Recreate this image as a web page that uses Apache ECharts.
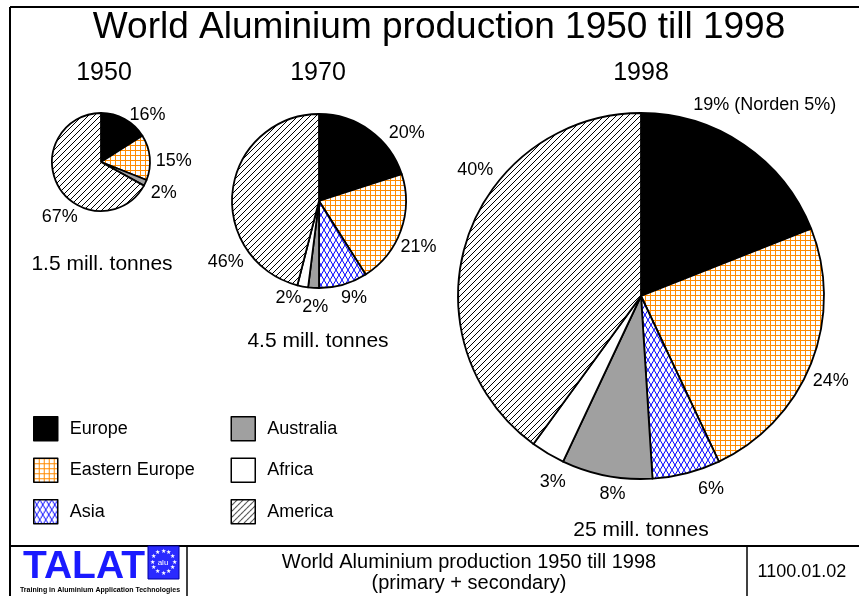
<!DOCTYPE html>
<html>
<head>
<meta charset="utf-8">
<title>World Aluminium production 1950 till 1998</title>
<script src="https://cdn.jsdelivr.net/npm/echarts@6/dist/echarts.min.js"></script>
<style>
html, body { margin: 0; padding: 0; background: #fff; }
#chart { width: 859px; height: 596px; }
</style>
</head>
<body>
<div id="chart"></div>
<script>
var regions = ['Europe', 'Eastern Europe', 'Asia', 'Australia', 'Africa', 'America'];
var years = ['1950', '1970', '1998'];
var totals = ['1.5 mill. tonnes', '4.5 mill. tonnes', '25 mill. tonnes'];
// share of world production in %, same order as regions (0 = no slice)
var share1950 = [16, 15, 0, 2, 0, 67];
var share1970 = [20, 21, 9, 2, 2, 46];
var share1998 = [19, 24, 6, 8, 3, 40];
var notes1998 = ['(Norden 5%)', '', '', '', '', ''];

var FONT = '"Liberation Sans", Arial, sans-serif';

function makePattern (w, h, draw) {
  var c = document.createElement('canvas');
  c.width = w;
  c.height = h;
  var ctx = c.getContext('2d');
  ctx.fillStyle = '#fff';
  ctx.fillRect(0, 0, w, h);
  draw(ctx);
  return { image: c, repeat: 'repeat' };
}

// orange square grid
var gridFill = makePattern(5, 5, function (ctx) {
  ctx.fillStyle = '#ff8a00';
  ctx.fillRect(0, 0, 5, 1);
  ctx.fillRect(0, 0, 1, 5);
});
// blue diamond cross hatch
var diamondFill = makePattern(6, 10, function (ctx) {
  ctx.strokeStyle = '#0000ff';
  ctx.lineWidth = 1;
  ctx.beginPath();
  ctx.moveTo(0, 0); ctx.lineTo(6, 10);
  ctx.moveTo(6, 0); ctx.lineTo(0, 10);
  ctx.stroke();
});
// black diagonal hatch
var hatchFill = makePattern(6, 6, function (ctx) {
  ctx.strokeStyle = '#000';
  ctx.lineWidth = 1;
  ctx.beginPath();
  ctx.moveTo(-6, 6); ctx.lineTo(6, -6);
  ctx.moveTo(0, 6); ctx.lineTo(6, 0);
  ctx.moveTo(0, 12); ctx.lineTo(12, 0);
  ctx.stroke();
});

var fills = ['#000', gridFill, diamondFill, '#a0a0a0', '#fff', hatchFill];

function pieSeries (values, notes, center, radius, offs) {
  var data = [];
  values.forEach(function (v, i) {
    if (v > 0) {
      data.push({ name: regions[i], value: v, note: notes ? notes[i] : '', itemStyle: { color: fills[i] } });
    }
  });
  return {
    type: 'pie',
    center: center,
    radius: radius,
    startAngle: 90,
    clockwise: true,
    avoidLabelOverlap: false,
    silent: true,
    emphasis: { disabled: true },
    itemStyle: { borderColor: '#000', borderWidth: 1.8 },
    label: {
      show: true,
      position: 'outside',
      distanceToLabelLine: 4,
      color: '#000',
      fontSize: 18,
      fontFamily: FONT,
      formatter: function (p) {
        var n = data[p.dataIndex].note;
        return p.value + '%' + (n ? ' ' + n : '');
      }
    },
    labelLine: { show: false, length: 6, length2: 0 },
    labelLayout: function (p) {
      var o = offs[data[p.dataIndex].name] || [0, 0];
      return { dx: o[0], dy: o[1] };
    },
    data: data
  };
}

function text (x, y, str, size, extra) {
  var st = {
    text: str,
    fontSize: size,
    fontFamily: FONT,
    fill: '#000',
    align: 'center',
    verticalAlign: 'middle'
  };
  for (var k in extra) st[k] = extra[k];
  return { type: 'text', x: x, y: y, silent: true, style: st };
}

function line (x1, y1, x2, y2, w) {
  return { type: 'line', silent: true, shape: { x1: x1, y1: y1, x2: x2, y2: y2 }, style: { stroke: '#000', lineWidth: w } };
}

// little EU style star ring for the logo
var stars = [];
for (var s = 0; s < 12; s++) {
  var a = s / 12 * Math.PI * 2;
  stars.push(text(163 + Math.cos(a) * 11, 562 + Math.sin(a) * 11, '\u2605', 6, { fill: '#ffffff' }));
}

var legendBase = {
  orient: 'vertical',
  top: 416,
  itemWidth: 24,
  itemHeight: 24,
  itemGap: 16,
  padding: 0,
  icon: 'rect',
  selectedMode: false,
  itemStyle: { borderColor: '#000', borderWidth: 1.5 },
  textStyle: { fontSize: 18, color: '#000', fontFamily: FONT, padding: [0, 0, 0, 7] }
};

var chart = echarts.init(document.getElementById('chart'));
var option = {
  animation: false,
  backgroundColor: '#fff',
  legend: [
    Object.assign({}, legendBase, { left: 33, data: regions.slice(0, 3) }),
    Object.assign({}, legendBase, { left: 230.5, data: regions.slice(3) })
  ],
  series: [
    pieSeries(share1950, null, [101, 162], 49, {
      'Europe': [-2, 1], 'Eastern Europe': [-4, 4], 'Australia': [-4, 8], 'America': [28, 27]
    }),
    pieSeries(share1970, null, [319, 201], 87, {
      'Europe': [11, 7], 'Eastern Europe': [-10, 15], 'Asia': [-8, 8],
      'Australia': [19, 13], 'Africa': [4, 6], 'America': [21, 73]
    }),
    pieSeries(share1998, notes1998, [641, 296], 183, {
      'Europe': [-58, -35], 'Eastern Europe': [-8, 15], 'Asia': [6, 10],
      'Australia': [24, 12], 'Africa': [25, 23], 'America': [36, -68]
    })
  ],
  graphic: [
    line(10, 7, 859, 7, 2),
    line(10, 7, 10, 596, 2),
    line(10, 546, 859, 546, 2),
    line(187, 546, 187, 596, 1.5),
    line(747, 546, 747, 596, 1.5),
    text(439, 28, 'World Aluminium production 1950 till 1998', 37),
    text(104, 73, years[0], 25),
    text(318, 73, years[1], 25),
    text(641, 73, years[2], 25),
    text(102, 264, totals[0], 21),
    text(318, 341, totals[1], 21),
    text(641, 530, totals[2], 21),
    text(469, 562, 'World Aluminium production 1950 till 1998', 20),
    text(469, 583, '(primary + secondary)', 20),
    text(802, 572, '1100.01.02', 18),
    text(84, 567, 'TALAT', 39, { fill: '#1a1aff', fontWeight: 'bold' }),
    { type: 'rect', silent: true, shape: { x: 148, y: 546, width: 31, height: 33 }, style: { fill: '#2a2aff', stroke: '#0000a0', lineWidth: 1 } },
    text(163, 563, 'alu', 8, { fill: '#fff' }),
    text(100, 590, 'Training in Aluminium Application Technologies', 7, { fontWeight: 'bold' })
  ].concat(stars)
};
chart.setOption(option);
</script>
</body>
</html>
